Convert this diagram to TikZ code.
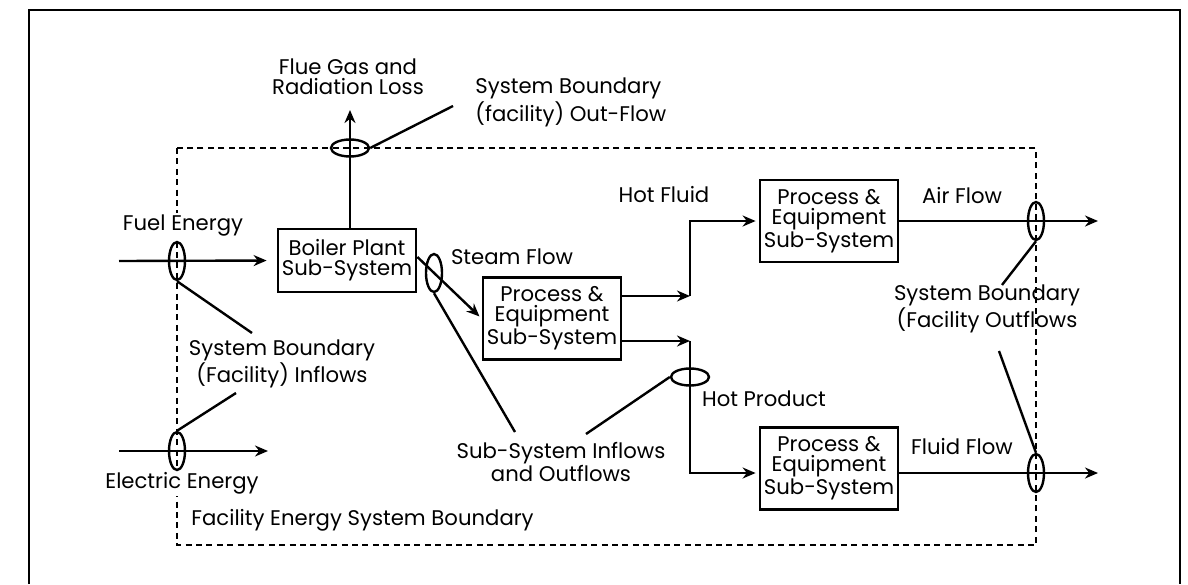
\documentclass[tikz,border=0pt]{standalone}
\usepackage{fontspec}
\setmainfont{Poppins}
\usetikzlibrary{positioning,arrows.meta,calc,shapes.geometric}

\begin{document}
\begin{tikzpicture}[
  x=0.5pt, y=-0.5pt,
  >={Stealth[length=6.5pt,width=5.5pt]},
  font=\fontsize{10.6}{10}\selectfont,
  sub/.style={
    draw=black, line width=1.4pt, minimum width=69pt, minimum height=41pt,
    align=center, inner sep=1pt
  },
  ring/.style={draw=black, line width=1.2pt, ellipse, inner sep=0pt},
  vring/.style={ring, minimum width=8pt, minimum height=19pt},
  hring/.style={ring, minimum width=19pt, minimum height=8.5pt},
  arr/.style={->, line width=1.2pt},
  lead/.style={line width=1.2pt},
  bound/.style={line width=1.4pt, dash pattern=on 3pt off 2.2pt},
  lab/.style={align=center, inner sep=1pt}
]
\useasboundingbox (0,0) rectangle (1188,584);

% --- Cadre extérieur
\draw[line width=1.3pt] (29,584) -- (29,10) -- (1180,10) -- (1180,584);

% --- Frontière du système (pointillés)
\draw[bound] (177,148) rectangle (1036,545);

% --- Sous-systèmes
\node[sub, minimum height=31.5pt] (boiler) at (347,260.5) {Boiler Plant\\Sub-System};
\node[sub] (proc1) at (552,318.5) {Process \&\\Equipment\\Sub-System};
\node[sub] (proc2) at (829,221)   {Process \&\\Equipment\\Sub-System};
\node[sub] (proc3) at (829,468.5) {Process \&\\Equipment\\Sub-System};

% --- Textes
\node[lab] (flueT)  at (348,77)    {Flue Gas and\\Radiation Loss};
\node[lab, anchor=west, align=left] (outT) at (473,102.5) {System Boundary\\(facility) Out-Flow};
\node[lab, fill=white] (fuelT) at (183,226) {Fuel Energy};
\node[lab] (inT)    at (282,364)   {System Boundary\\(Facility) Inflows};
\node[lab, fill=white] (elecT) at (182,483) {Electric Energy};
\node[lab, anchor=west] (facT) at (189,520) {Facility Energy System Boundary};
\node[lab] (steamT) at (512,257)   {Steam Flow};
\node[lab] (hfT)    at (664,195)   {Hot Fluid};
\node[lab] (hpT)    at (764,399)   {Hot Product};
\node[lab] (subT)   at (561,462)   {Sub-System Inflows\\and Outflows};
\node[lab] (airT)   at (962,196)   {Air Flow};
\node[lab] (fluidT) at (962,447)   {Fluid Flow};
\node[lab] (outfT)  at (987,309)   {System Boundary\\(Facility Outflows};

% --- Ellipses de frontière
\node[hring] (rflue)  at (350,148) {};
\node[vring] (rfuel)  at (177,261) {};
\node[vring] (relec)  at (177,451) {};
\node[vring] (rsteam) at (434,273) {};
\node[hring] (rprod)  at (690,377) {};
\node[vring] (rair)   at (1036,221) {};
\node[vring] (rfluid) at (1036,473) {};

% --- Entrées
\coordinate (fuelin)  at (119,261);
\coordinate (elecin)  at (119,451);
\coordinate (elecend) at (268,451);
\draw[arr, shorten >=5pt] (fuelin) -- (boiler.west);
\draw[arr] (elecin) -- (elecend);

% --- Pertes fumées
\coordinate (flueup) at (350,110);
\draw[arr] (boiler.north -| flueup) -- (flueup);

% --- Vapeur vers procédé
\draw[arr, shorten >=1.5pt] ($(boiler.east)+(0,-3.5)$) -- (proc1.west);

% --- Sorties procédé 1
\coordinate (jtop) at (690,296);
\coordinate (jbot) at (690,341);
\draw[arr] ($(proc1.east)+(0,-22.5)$) -- (jtop);
\draw[arr] ($(proc1.east)+(0,22.5)$) -- (jbot);
\draw[arr, shorten >=1.5pt] (jtop) |- (proc2.west);
\draw[arr, shorten >=1.5pt] (jbot) |- ($(proc3.west)+(0,4.5)$);

% --- Sorties facility
\coordinate (airout)   at (1098,221);
\coordinate (fluidout) at (1098,473);
\draw[arr] (proc2.east) -- (airout);
\draw[arr] ($(proc3.east)+(0,4.5)$) -- (fluidout);

% --- Traits de rappel
\coordinate (outL)   at (453,106);
\coordinate (inL1)   at (252,333);
\coordinate (inL2)   at (236,393);
\coordinate (subL1)  at (515,432);
\coordinate (subL2)  at (586,434);
\coordinate (outfL1) at (1002,285);
\coordinate (outfL2) at (999,351);
\draw[lead] (rflue.east) -- (outL);
\draw[lead] (rfuel.south) -- (inL1);
\draw[lead] (inL2) -- (relec.north);
\draw[lead] (rsteam.south) -- (subL1);
\draw[lead] (subL2) -- (rprod.west);
\draw[lead] (rair.south) -- (outfL1);
\draw[lead] (outfL2) -- (rfluid.north);

\end{tikzpicture}
\end{document}
